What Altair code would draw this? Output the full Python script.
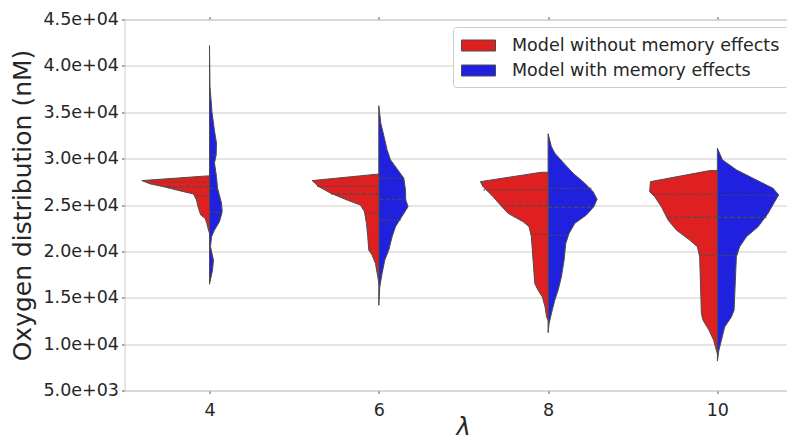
import altair as alt
import pandas as pd

# ---------------- data ----------------
LAMBDAS = [4, 6, 8, 10]
M_WITHOUT = "Model without memory effects"
M_WITH = "Model with memory effects"
COLORS = ["#df2020", "#2020df"]

# violin half profiles: oxygen value (nM) and scaled density (half-width)
RED_4_Y = [28140, 27630, 27270, 26980, 26440, 26190, 25540, 24640, 23920, 23560, 23020, 22300, 21940]
RED_4_D = [2, 67.6, 59, 46, 26, 16, 13, 11, 8.7, 4.3, 2.7, 1, 0]
BLUE_4_Y = [42190, 37800, 35000, 33000, 31670, 30400, 29540, 28060, 26840, 25200, 24280, 23200, 22300, 21570, 20500, 19050, 17970, 16460]
BLUE_4_D = [0, 0.5, 2.5, 5, 7, 6.7, 5, 7, 8, 12, 12.7, 10, 5, 2, 1, 4, 3, 0]

RED_6_Y = [28320, 27630, 26980, 26270, 25540, 25000, 24280, 23020, 21570, 20140, 19600, 18700, 17250, 16570]
RED_6_D = [2, 66.7, 60, 48, 31.7, 18.3, 14.3, 12.3, 11, 10, 6.7, 3.3, 1, 0]
BLUE_6_Y = [35700, 33830, 32030, 30950, 29870, 28790, 27890, 26620, 25540, 24820, 23740, 22660, 21570, 20140, 19060, 17620, 16170, 14190]
BLUE_6_D = [0, 2, 6, 8.3, 11.7, 19, 25, 26.7, 27, 29.3, 23, 16.7, 13.3, 10, 6, 3.3, 1, 0]

RED_8_Y = [28530, 27520, 26980, 25900, 25000, 24100, 23200, 22660, 21570, 19060, 16540, 15810, 15090, 14010, 12930, 12570]
RED_8_D = [6.7, 67.7, 65, 55, 47.7, 40, 25, 19, 16.7, 15, 13.3, 10, 5.7, 3, 1.5, 0]
BLUE_8_Y = [32680, 31300, 30590, 29510, 28430, 27350, 26440, 25620, 24820, 23920, 23020, 21940, 20860, 19060, 17250, 15810, 14730, 13290, 12210, 11240]
BLUE_8_D = [0, 3.3, 6.7, 15.7, 25, 36.7, 45, 49, 45.7, 38.3, 26.7, 21, 17.7, 16, 13.3, 10, 6.7, 3.3, 1, 0]

RED_10_Y = [28710, 27520, 26440, 25900, 24820, 23380, 22300, 21220, 20500, 19410, 16890, 13290, 12570, 11490, 10410, 9330, 9000]
RED_10_D = [7.7, 67, 67.7, 62.7, 56, 49.3, 41, 27.7, 20, 17.7, 17, 16, 14.3, 8.3, 3.7, 1, 0]
BLUE_10_Y = [31130, 29870, 28790, 27700, 26800, 26080, 25360, 24100, 22660, 21570, 20500, 19410, 16890, 13650, 12930, 11850, 10410, 9330, 8170]
BLUE_10_D = [0, 5, 19, 39, 55.7, 61.3, 57.3, 50.7, 40.7, 29, 22.3, 19, 18, 16.7, 14, 7.3, 4, 1.5, 0]

# quartiles (Q3, median, Q1) and the half-width of the violin at each
RED_Q_Y = {4: [27480, 26980, 26010], 6: [27000, 26200, 24100], 8: [26620, 24930, 21870], 10: [26150, 23670, 19560]}
RED_Q_D = {4: [57.7, 46, 14], 6: [61.7, 48, 14.3], 8: [65, 46.7, 15.7], 10: [66, 51, 17.7]}
BLUE_Q_Y = {4: [30400, 26800, 24210], 6: [27890, 25620, 23380], 8: [26800, 24750, 21730], 10: [26050, 23670, 19560]}
BLUE_Q_D = {4: [6.7, 8, 10.7], 6: [25, 26.7, 21.7], 8: [43.3, 45.7, 19], 10: [61.3, 49, 19]}
Q_KIND = ["quartile", "median", "quartile"]

Y_TICKS = [5000, 10000, 15000, 20000, 25000, 30000, 35000, 40000, 45000]

# ---------------- build tables ----------------
DENS_PER_UNIT = 84.65  # density units per lambda unit on the x scale

halves = [
    (4, M_WITHOUT, RED_4_Y, RED_4_D), (4, M_WITH, BLUE_4_Y, BLUE_4_D),
    (6, M_WITHOUT, RED_6_Y, RED_6_D), (6, M_WITH, BLUE_6_Y, BLUE_6_D),
    (8, M_WITHOUT, RED_8_Y, RED_8_D), (8, M_WITH, BLUE_8_Y, BLUE_8_D),
    (10, M_WITHOUT, RED_10_Y, RED_10_D), (10, M_WITH, BLUE_10_Y, BLUE_10_D),
]
rows = []
for lam, model, ys, ds in halves:
    sign = -1 if model == M_WITHOUT else 1
    for y, d in zip(ys, ds):
        rows.append(dict(lam=lam, model=model, value=y, edge=lam + sign * d / DENS_PER_UNIT,
                         key=f"{lam}-{model}"))
vdf = pd.DataFrame(rows).sort_values(["key", "value"])

qrows = []
for lam in LAMBDAS:
    for model, qy, qd, sign in [(M_WITHOUT, RED_Q_Y, RED_Q_D, -1), (M_WITH, BLUE_Q_Y, BLUE_Q_D, 1)]:
        for y, d, k in zip(qy[lam], qd[lam], Q_KIND):
            qrows.append(dict(lam=lam, model=model, value=y, kind=k, edge=lam + sign * d / DENS_PER_UNIT))
qdf = pd.DataFrame(qrows)

# ---------------- chart ----------------
TXT = "#262626"
GRID = "#cccccc"
TICK = "#555555"
LINE = "#4c4c4c"

xscale = alt.Scale(domain=[2.996, 10.8225], nice=False, zero=False)
yscale = alt.Scale(domain=[5000, 45000], nice=False, zero=False)

yaxis = alt.Axis(
    values=Y_TICKS,
    labelExpr="datum.value >= 10000 ? format(datum.value/10000, '.1f') + 'e+04' : format(datum.value/1000, '.1f') + 'e+03'",
    title="Oxygen distribution (nM)",
    titleFontSize=25, titleFontWeight="normal", titleColor=TXT,
    titleAngle=270, titleX=-94, titleY=185.5, titleAlign="center", titleBaseline="alphabetic",
    labelFontSize=17.5, labelColor=TXT, labelPadding=3,
    tickSize=3, tickColor=TICK, domainColor=GRID, grid=True, gridColor=GRID,
)

y_enc = alt.Y("value:Q", scale=yscale, axis=yaxis)

xaxis_bottom = alt.Axis(
    values=LAMBDAS, format="d", title="λ",
    titleFontSize=24, titleFontStyle="italic", titleFontWeight="normal", titleColor=TXT,
    titleX=338.5, titleY=43.5, titleBaseline="alphabetic",
    labelFontSize=17.5, labelColor=TXT, labelPadding=8,
    tickSize=3, tickColor=TICK, domainColor=GRID, grid=False,
)
xaxis_top = alt.Axis(
    orient="top", values=LAMBDAS, labels=False, title=None,
    tickSize=3, tickColor=TICK, domainColor=GRID, grid=False,
)

color_enc = alt.Color(
    "model:N",
    scale=alt.Scale(domain=[M_WITHOUT, M_WITH], range=COLORS),
    legend=alt.Legend(
        title=None, orient="none", legendX=328.5, legendY=7.5,
        padding=8, strokeColor=GRID, fillColor="white", cornerRadius=3,
        labelFontSize=17.5, labelColor=TXT, labelOffset=30, labelLimit=500,
        symbolType="M-1,-0.55H2.4V0.55H-1Z", symbolSize=400,
        symbolStrokeColor=LINE, symbolStrokeWidth=1, symbolOpacity=1,
        rowPadding=6,
    ),
)

violins = alt.Chart(vdf).mark_area(orient="horizontal", stroke=LINE, strokeWidth=1, opacity=1).encode(
    y=y_enc,
    x=alt.X("edge:Q", scale=xscale, axis=xaxis_bottom, stack=None),
    x2="lam:Q",
    color=color_enc,
    detail="key:N",
)

medians = alt.Chart(qdf).transform_filter("datum.kind == 'median'").mark_rule(
    color=LINE, strokeWidth=1.2, strokeDash=[4, 2.5]
).encode(
    y=y_enc,
    x=alt.X("lam:Q", scale=xscale, axis=xaxis_top),
    x2="edge:Q",
)

quarts = alt.Chart(qdf).transform_filter("datum.kind == 'quartile'").mark_rule(
    color=LINE, strokeWidth=1.2, strokeDash=[1.5, 1.5]
).encode(
    y=y_enc,
    x=alt.X("lam:Q", scale=xscale, axis=None),
    x2="edge:Q",
)

chart = alt.layer(violins, medians, quarts).resolve_axis(x="independent").properties(
    width=662.5, height=371,
    autosize=alt.AutoSizeParams(type="none"),
    padding={"left": 116.5, "top": 11.5, "right": 0, "bottom": 50},
).configure(
    font="DejaVu Sans",
).configure_view(stroke=None)

chart.save("out.html", embed_options={"renderer": "svg", "actions": False})
